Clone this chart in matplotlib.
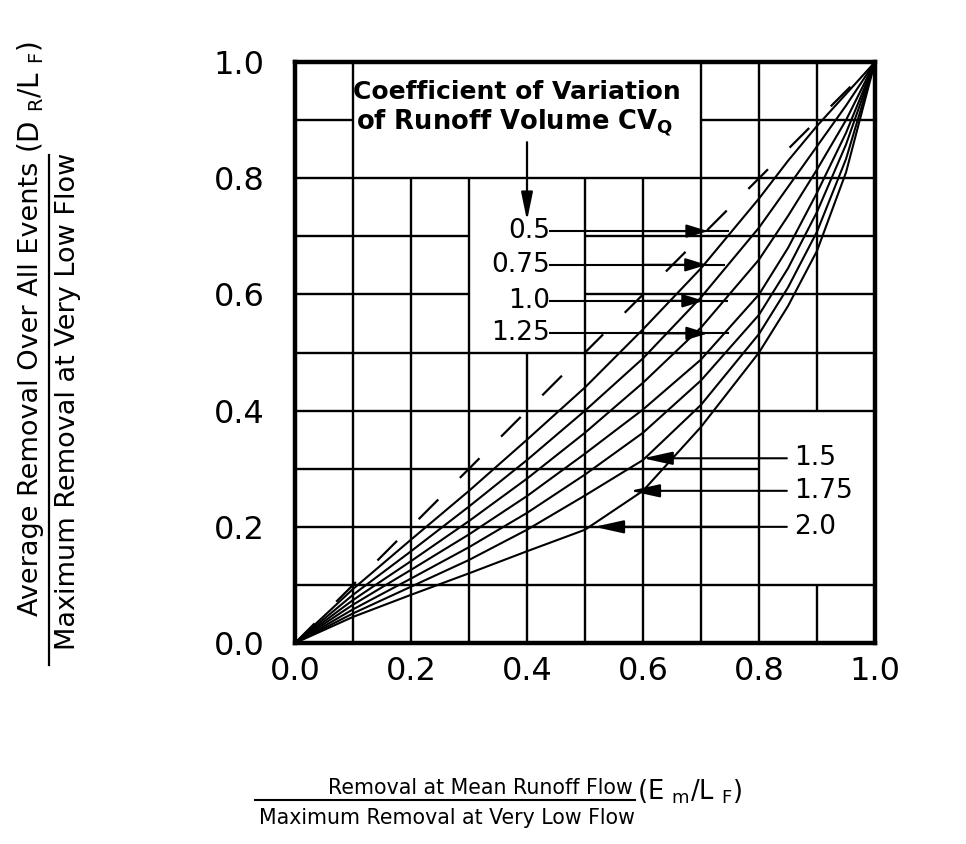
import matplotlib
matplotlib.use('Agg')
import matplotlib.pyplot as plt

plt.rcParams['font.family'] = ['DejaVu Sans']
plt.rcParams['mathtext.fontset'] = 'dejavusans'
plt.rcParams['lines.scale_dashes'] = False

# ---- data ----
x_pts = [0.0, 0.1, 0.2, 0.3, 0.4, 0.5, 0.6, 0.7, 0.8, 0.85, 0.9, 0.95, 1.0]
cv_05 = [0, .093, .178, .262, .350, .440, .540, .645, .765, .830, .890, .945, 1]
cv_075 = [0, .083, .158, .235, .315, .400, .490, .595, .715, .785, .855, .925, 1]
cv_10 = [0, .074, .141, .210, .283, .362, .448, .543, .660, .735, .815, .900, 1]
cv_125 = [0, .066, .126, .187, .253, .326, .402, .488, .600, .680, .775, .878, 1]
cv_15 = [0, .058, .111, .165, .224, .290, .362, .452, .565, .645, .742, .858, 1]
cv_175 = [0, .051, .097, .143, .195, .254, .315, .410, .532, .612, .708, .833, 1]
cv_20 = [0, .045, .083, .120, .158, .195, .262, .372, .500, .580, .675, .810, 1]
curves = [cv_05, cv_075, cv_10, cv_125, cv_15, cv_175, cv_20]

ticks = [0.0, 0.2, 0.4, 0.6, 0.8, 1.0]
tick_labels = ['0.0', '0.2', '0.4', '0.6', '0.8', '1.0']

# grid segments (position, start, end)
v_grid = [(0.1, 0, 1), (0.2, 0, 0.8), (0.3, 0, 0.8), (0.4, 0, 0.5), (0.5, 0, 0.8),
          (0.6, 0, 0.8), (0.7, 0, 1), (0.8, 0, 1), (0.9, 0, 0.1), (0.9, 0.4, 1)]
h_grid = [(0.1, 0, 1), (0.2, 0, 0.8), (0.3, 0, 0.8), (0.4, 0, 1), (0.5, 0, 1),
          (0.6, 0, 0.3), (0.6, 0.5, 1), (0.7, 0, 0.3), (0.7, 0.5, 1), (0.8, 0, 1),
          (0.9, 0, 0.1), (0.9, 0.7, 1)]

# curve labels: text, label y, leader end x, arrowhead tip x
upper_labels = ['0.5', '0.75', '1.0', '1.25']
upper_y = [0.709, 0.651, 0.589, 0.533]
upper_end = [0.747, 0.740, 0.745, 0.747]
upper_head = [0.712, 0.710, 0.705, 0.712]
lower_labels = ['1.5', '1.75', '2.0']
lower_y = [0.318, 0.262, 0.200]
lower_tip = [0.600, 0.578, 0.516]

fig = plt.figure(figsize=(9.66, 8.44), dpi=100)
ax = fig.add_axes([0.3054, 0.2381, 0.6004, 0.6884])
ax.set_xlim(0, 1)
ax.set_ylim(0, 1)

for x, a, b in v_grid:
    ax.plot([x, x], [a, b], color='black', lw=1.7, solid_capstyle='butt', zorder=1)
for y, a, b in h_grid:
    ax.plot([a, b], [y, y], color='black', lw=1.7, solid_capstyle='butt', zorder=1)

ax.plot([0, 1], [0, 1], color='black', lw=1.6, dashes=(20, 22), zorder=2)
for c in curves:
    ax.plot(x_pts, c, color='black', lw=1.5, zorder=3)

for s in ax.spines.values():
    s.set_linewidth(3.2)
ax.set_xticks(ticks)
ax.set_xticklabels(tick_labels)
ax.set_yticks(ticks)
ax.set_yticklabels(tick_labels)
ax.tick_params(length=0, labelsize=23)
ax.tick_params(axis='x', pad=9)
ax.tick_params(axis='y', pad=22)

# title block
ax.text(0.100, 0.948, 'Coefficient of Variation', fontsize=18, fontweight='bold',
        ha='left', va='center')
ax.text(0.106, 0.895, 'of Runoff Volume CV$_{\\mathbf{Q}}$', fontsize=18.5, fontweight='bold',
        ha='left', va='center')
ax.annotate('', xy=(0.40, 0.727), xytext=(0.40, 0.862),
            arrowprops=dict(arrowstyle='-|>,head_length=1.7,head_width=0.35', color='black',
                            lw=1.6, shrinkA=0, shrinkB=0))

for t, y, end, head in zip(upper_labels, upper_y, upper_end, upper_head):
    ax.text(0.440, y, t, fontsize=19, ha='right', va='center')
    ax.plot([0.44, end], [y, y], color='black', lw=1.5, zorder=4)
    ax.annotate('', xy=(head, y), xytext=(0.60, y),
                arrowprops=dict(arrowstyle='-|>,head_length=1.3,head_width=0.4',
                                color='black', lw=1.5, shrinkA=0, shrinkB=0))
for t, y, tip in zip(lower_labels, lower_y, lower_tip):
    ax.text(0.860, y, t, fontsize=19, ha='left', va='center')
    ax.annotate('', xy=(tip, y), xytext=(0.848, y),
                arrowprops=dict(arrowstyle='-|>,head_length=1.8,head_width=0.4',
                                color='black', lw=1.5, shrinkA=0, shrinkB=0))

# x axis label (fraction)
fig.text(633 / 966, 1 - 794 / 844, 'Removal at Mean Runoff Flow', fontsize=14.8,
         ha='right', va='baseline')
fig.add_artist(plt.Line2D([255 / 966, 635 / 966], [1 - 800 / 844, 1 - 800 / 844],
                          color='black', lw=1.5))
fig.text(635 / 966, 1 - 808 / 844, 'Maximum Removal at Very Low Flow', fontsize=14.8,
         ha='right', va='top')
fig.text(637 / 966, 1 - 792 / 844, '(E $_{\\mathrm{m}}$/L $_{\\mathrm{F}}$)', fontsize=18.5,
         ha='left', va='center')

# y axis label (fraction, rotated)
fig.text(31 / 966, 1 - 162 / 844, 'Average Removal Over All Events', fontsize=19.5,
         rotation=90, ha='center', va='top')
fig.add_artist(plt.Line2D([49 / 966, 49 / 966], [1 - 155 / 844, 1 - 665 / 844],
                          color='black', lw=1.6))
fig.text(68 / 966, 1 - 153 / 844, 'Maximum Removal at Very Low Flow', fontsize=19.5,
         rotation=90, ha='center', va='top')
fig.text(31 / 966, 1 - 153 / 844, '(D $_{\\mathrm{R}}$/L $_{\\mathrm{F}}$)', fontsize=20,
         rotation=90, ha='center', va='bottom')

fig.savefig('out.png', dpi=100)
